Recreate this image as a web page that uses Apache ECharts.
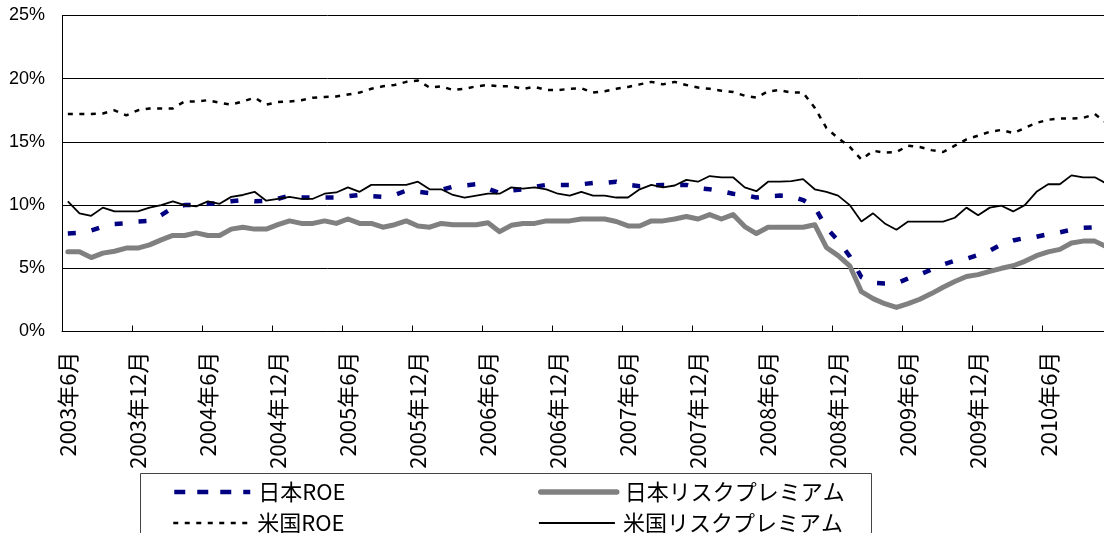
<!DOCTYPE html>
<html>
<head>
<meta charset="utf-8">
<script src="https://cdn.jsdelivr.net/npm/echarts@6/dist/echarts.min.js"></script>
<style>
html,body{margin:0;padding:0;overflow:hidden;background:#fff;}
#chart{width:1124px;height:533px;}
</style>
</head>
<body>
<div id="chart"></div>
<script>
const categories = [
 '2003年6月','2003年7月','2003年8月','2003年9月','2003年10月','2003年11月','2003年12月',
 '2004年1月','2004年2月','2004年3月','2004年4月','2004年5月','2004年6月','2004年7月','2004年8月','2004年9月','2004年10月','2004年11月','2004年12月',
 '2005年1月','2005年2月','2005年3月','2005年4月','2005年5月','2005年6月','2005年7月','2005年8月','2005年9月','2005年10月','2005年11月','2005年12月',
 '2006年1月','2006年2月','2006年3月','2006年4月','2006年5月','2006年6月','2006年7月','2006年8月','2006年9月','2006年10月','2006年11月','2006年12月',
 '2007年1月','2007年2月','2007年3月','2007年4月','2007年5月','2007年6月','2007年7月','2007年8月','2007年9月','2007年10月','2007年11月','2007年12月',
 '2008年1月','2008年2月','2008年3月','2008年4月','2008年5月','2008年6月','2008年7月','2008年8月','2008年9月','2008年10月','2008年11月','2008年12月',
 '2009年1月','2009年2月','2009年3月','2009年4月','2009年5月','2009年6月','2009年7月','2009年8月','2009年9月','2009年10月','2009年11月','2009年12月',
 '2010年1月','2010年2月','2010年3月','2010年4月','2010年5月','2010年6月','2010年7月','2010年8月','2010年9月','2010年10月','2010年11月','2010年12月'
];

const seriesNames = ['日本ROE', '日本リスクプレミアム', '米国ROE', '米国リスクプレミアム'];

const jpRoe = [
 7.75,7.8,8.0,8.3,8.5,8.55,8.7,8.75,9.2,9.8,
 10.0,10.0,10.1,10.15,10.3,10.4,10.3,10.35,10.5,10.75,
 10.6,10.6,10.6,10.6,10.7,10.8,10.7,10.65,10.8,11.15,
 11.05,10.95,11.2,11.45,11.55,11.65,11.3,10.95,11.15,11.25,
 11.45,11.6,11.6,11.6,11.65,11.75,11.75,11.85,11.6,11.5,
 11.55,11.6,11.6,11.6,11.35,11.25,11.1,10.9,10.8,10.6,
 10.7,10.75,10.7,10.4,9.85,8.2,7.2,5.95,4.3,3.85,
 3.8,3.8,4.2,4.5,4.9,5.3,5.6,5.75,6.05,6.4,
 6.9,7.2,7.4,7.5,7.7,7.85,8.05,8.2,8.25,8.3,
 8.3
];
const jpRp = [
 6.3,6.3,5.85,6.2,6.35,6.6,6.6,6.85,7.25,7.6,
 7.6,7.8,7.6,7.6,8.1,8.25,8.1,8.1,8.45,8.75,
 8.55,8.55,8.75,8.55,8.9,8.55,8.55,8.25,8.45,8.75,
 8.35,8.25,8.55,8.45,8.45,8.45,8.6,7.9,8.4,8.55,
 8.55,8.75,8.75,8.75,8.9,8.9,8.9,8.7,8.35,8.35,
 8.75,8.75,8.9,9.1,8.9,9.25,8.9,9.25,8.3,7.75,
 8.25,8.25,8.25,8.25,8.45,6.65,6.0,5.2,3.15,2.6,
 2.2,1.9,2.2,2.55,3.0,3.5,3.95,4.35,4.5,4.75,
 5.0,5.2,5.55,6.0,6.3,6.5,7.0,7.15,7.15,6.7,
 6.6
];
const usRoe = [
 17.2,17.2,17.2,17.25,17.5,17.1,17.5,17.65,17.65,17.65,
 18.2,18.2,18.3,18.1,17.95,18.2,18.5,17.95,18.15,18.2,
 18.3,18.5,18.55,18.6,18.75,18.9,19.2,19.4,19.5,19.75,
 19.85,19.3,19.4,19.1,19.2,19.4,19.5,19.4,19.4,19.2,
 19.35,19.1,19.1,19.2,19.25,18.9,19.0,19.2,19.35,19.55,
 19.75,19.55,19.75,19.5,19.3,19.2,19.05,18.95,18.65,18.5,
 19.0,19.1,18.9,18.9,17.7,16.1,15.3,14.6,13.6,14.3,
 14.15,14.2,14.7,14.6,14.35,14.2,14.7,15.2,15.5,15.8,
 15.95,15.7,16.1,16.5,16.75,16.85,16.85,16.9,17.2,16.5,
 16.4
];
const usRp = [
 10.3,9.35,9.15,9.8,9.5,9.5,9.5,9.8,10.0,10.3,
 10.0,9.9,10.3,10.1,10.65,10.8,11.05,10.35,10.5,10.65,
 10.5,10.5,10.9,11.0,11.4,11.05,11.6,11.6,11.6,11.6,
 11.85,11.25,11.25,10.8,10.6,10.75,10.9,10.9,11.4,11.3,
 11.4,11.25,10.9,10.75,11.05,10.75,10.75,10.6,10.6,11.25,
 11.6,11.4,11.55,12.0,11.85,12.3,12.2,12.2,11.4,11.1,
 11.85,11.85,11.9,12.05,11.25,11.05,10.75,10.0,8.7,9.35,
 8.55,8.05,8.7,8.7,8.7,8.7,9.0,9.8,9.2,9.8,
 9.95,9.5,10.0,11.05,11.65,11.65,12.35,12.2,12.2,11.7,
 11.6
];

const chart = echarts.init(document.getElementById('chart'), null, {renderer: 'canvas'});
const cjk = '"Noto Sans CJK JP", "Noto Sans", sans-serif';

function legendItem(name, left, top, lineStyle) {
  return {
    orient: 'horizontal', left: left, top: top, padding: 0,
    itemWidth: 76, itemHeight: 14,
    data: [name],
    itemStyle: {opacity: 0, color: 'transparent', borderWidth: 0},
    lineStyle: lineStyle,
    textStyle: {fontSize: 22, color: '#000', fontFamily: cjk, padding: [0, 0, 0, 3]}
  };
}

const option = {
  animation: false,
  backgroundColor: '#ffffff',
  grid: {left: 62, right: 0, top: 15.5, bottom: 201.5, containLabel: false},
  xAxis: {
    type: 'category',
    data: categories,
    boundaryGap: true,
    axisLine: {show: true, lineStyle: {color: '#000', width: 1}},
    axisTick: {show: true, inside: true, length: 6, interval: 5, lineStyle: {color: '#000'}},
    axisLabel: {
      interval: 5, rotate: 90, margin: 20, showMaxLabel: false,
      fontSize: 22, color: '#000', fontFamily: cjk
    },
    splitLine: {show: false}
  },
  yAxis: {
    type: 'value',
    min: 0, max: 25, interval: 5,
    axisLine: {show: true, lineStyle: {color: '#000', width: 1}},
    axisTick: {show: false},
    axisLabel: {
      formatter: '{value}%', fontSize: 18, color: '#000', margin: 17,
      fontFamily: '"Liberation Sans", Arial, sans-serif', padding: [6, 0, 0, 0]
    },
    splitLine: {show: true, lineStyle: {color: '#000', width: 1}}
  },
  legend: [
    legendItem(seriesNames[0], 172, 481, {color: '#000080', width: 4.5, type: [11, 12]}),
    legendItem(seriesNames[2], 172, 512, {color: '#000', width: 2.5, type: [5, 6.5]}),
    legendItem(seriesNames[1], 538, 481, {color: '#808080', width: 5.5, cap: 'round'}),
    legendItem(seriesNames[3], 538, 512, {color: '#000', width: 1.8})
  ],
  graphic: [
    {
      type: 'rect', z: -10, silent: true,
      shape: {x: 140.5, y: 473.5, width: 731, height: 100},
      style: {fill: '#ffffff', stroke: '#444', lineWidth: 1}
    }
  ],
  series: [
    {
      name: seriesNames[0], type: 'line', data: jpRoe, symbol: 'none', showSymbol: false,
      itemStyle: {color: '#000080'},
      lineStyle: {color: '#000080', width: 4.5, type: [8, 16]}
    },
    {
      name: seriesNames[1], type: 'line', data: jpRp, symbol: 'none', showSymbol: false,
      itemStyle: {color: '#808080'},
      lineStyle: {color: '#808080', width: 5, cap: 'round', join: 'round'}
    },
    {
      name: seriesNames[2], type: 'line', data: usRoe, symbol: 'none', showSymbol: false,
      itemStyle: {color: '#000'},
      lineStyle: {color: '#000', width: 2.5, type: [5, 6.5]}
    },
    {
      name: seriesNames[3], type: 'line', data: usRp, symbol: 'none', showSymbol: false,
      itemStyle: {color: '#000'},
      lineStyle: {color: '#000', width: 1.8}
    }
  ]
};
chart.setOption(option);
</script>
</body>
</html>
